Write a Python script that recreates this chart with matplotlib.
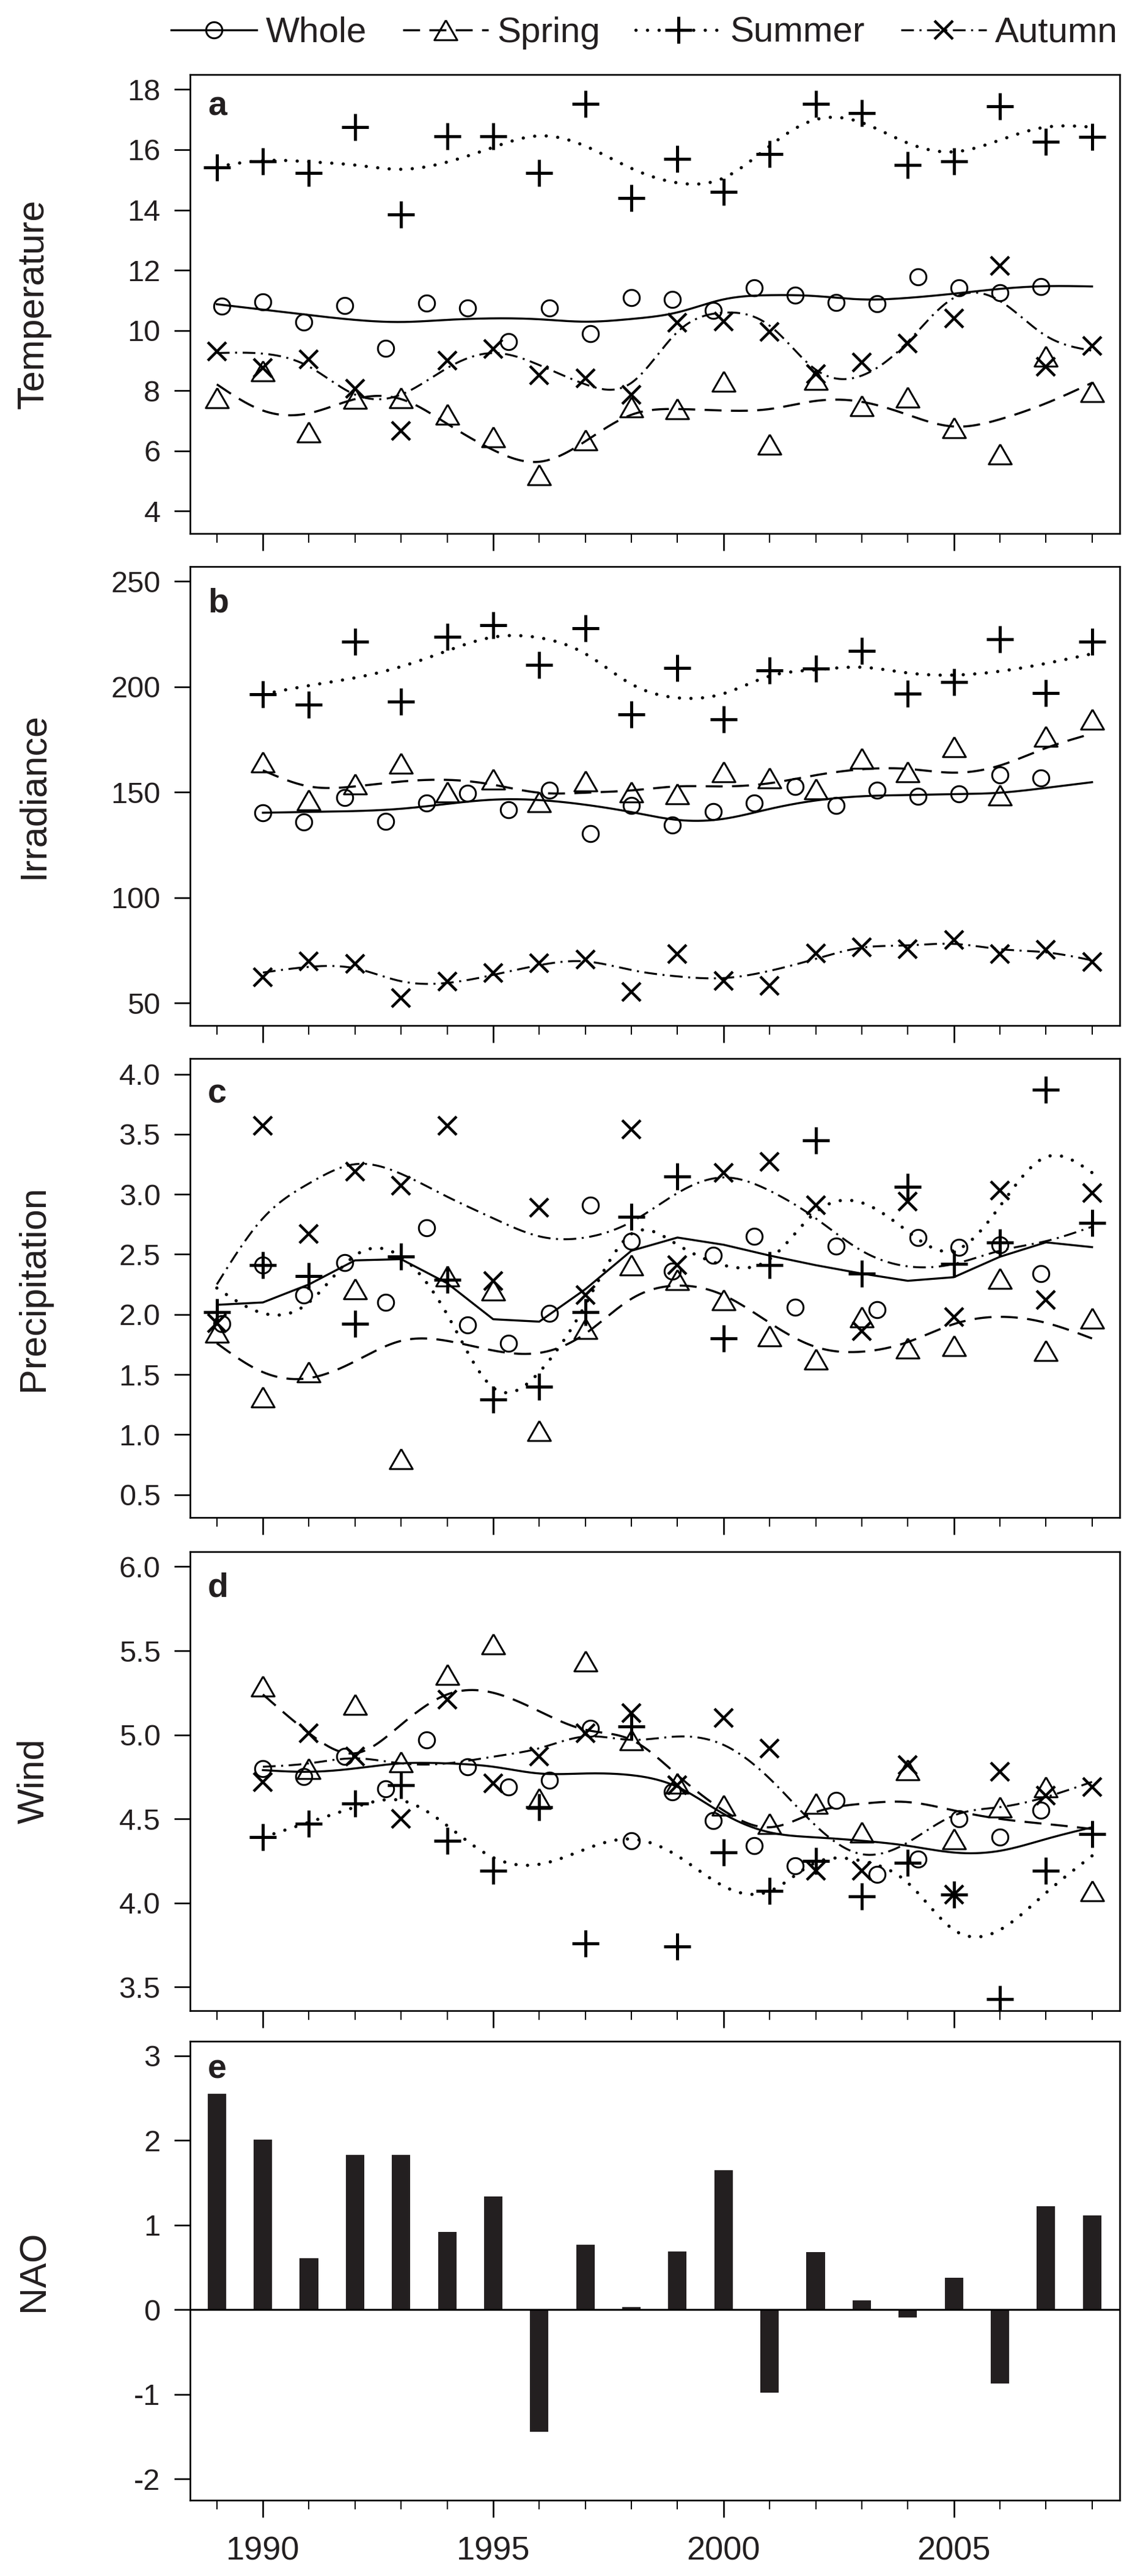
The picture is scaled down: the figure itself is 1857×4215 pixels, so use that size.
import numpy as np
import matplotlib
matplotlib.use('Agg')
import matplotlib.pyplot as plt
from matplotlib.lines import Line2D
from matplotlib.ticker import MultipleLocator, FormatStrFormatter

plt.rcParams['font.family'] = ['Liberation Sans', 'DejaVu Sans']
plt.rcParams['lines.scale_dashes'] = False

# ---------------- data ----------------
years = list(range(1989, 2009))
years_b = list(range(1990, 2009))
whole_x = [1989.11, 1990.0, 1990.89, 1991.78, 1992.67, 1993.56, 1994.44, 1995.33,
           1996.22, 1997.11, 1998.0, 1998.89, 1999.78, 2000.67, 2001.56, 2002.44,
           2003.33, 2004.22, 2005.11, 2006.0, 2006.89]

# (a) Temperature, 1989-2008
temp_whole = [10.8, 10.95, 10.27, 10.82, 9.4, 10.9, 10.75, 9.63, 10.75, 9.9, 11.09,
              11.03, 10.66, 11.42, 11.17, 10.93, 10.89, 11.78, 11.42, 11.25, 11.45]
temp_spring = [7.76, 8.65, 6.62, 7.74, 7.77, 7.21, 6.47, 5.2, 6.37, 7.46, 7.39, 8.31,
               6.22, 8.36, 7.49, 7.78, 6.76, 5.89, 9.14, 7.97]
temp_summer = [15.42, 15.62, 15.23, 16.74, 13.84, 16.44, 16.44, 15.23, 17.52, 14.4,
               15.69, 14.59, 15.86, 17.52, 17.22, 15.5, 15.62, 17.44, 16.27, 16.43]
temp_autumn = [9.3, 8.75, 9.04, 8.07, 6.66, 8.99, 9.38, 8.51, 8.41, 7.87, 10.25, 10.3,
               9.96, 8.55, 8.94, 9.57, 10.4, 12.15, 8.8, 9.48]
temp_whole_s = [10.87, 10.69, 10.51, 10.35, 10.28, 10.35, 10.4, 10.37, 10.29, 10.38,
                10.6, 11.03, 11.17, 11.14, 11.03, 11.08, 11.22, 11.38, 11.47, 11.46]
temp_spring_s = [8.21, 7.34, 7.25, 7.72, 7.72, 6.9, 6.03, 5.64, 6.32, 7.2, 7.39, 7.34,
                 7.39, 7.66, 7.63, 7.2, 6.81, 7.05, 7.58, 8.26]
temp_summer_s = [15.43, 15.64, 15.6, 15.49, 15.35, 15.59, 16.08, 16.46, 16.12, 15.38,
                 14.9, 15.06, 16.12, 17.0, 16.9, 16.22, 15.93, 16.32, 16.75, 16.75]
temp_autumn_s = [9.25, 9.23, 8.8, 7.87, 7.87, 8.75, 9.25, 8.85, 8.21, 8.26, 9.95, 10.59,
                 10.16, 8.7, 8.5, 9.62, 11.08, 10.98, 9.82, 9.33]

# (b) Irradiance, 1990-2008
irr_whole = [140.2, 135.8, 147.4, 136.1, 144.7, 149.4, 141.7, 150.9, 130.3, 143.6,
             134.5, 140.6, 144.7, 152.7, 143.6, 150.8, 147.9, 149.2, 158.0, 156.8]
irr_spring = [164.1, 146.2, 153.8, 163.6, 150.0, 156.1, 145.5, 155.3, 150.0, 149.2,
              159.5, 156.8, 151.5, 165.9, 159.5, 171.4, 148.5, 176.5, 184.5]
irr_summer = [196.4, 191.4, 221.2, 192.9, 223.5, 229.2, 210.2, 227.7, 186.8, 208.8,
              184.5, 207.7, 208.5, 217.1, 196.7, 202.3, 222.4, 197.1, 221.4]
irr_autumn = [62.1, 69.7, 68.6, 52.4, 60.3, 64.1, 69.0, 70.5, 55.2, 73.2, 60.6, 58.0,
              73.5, 76.5, 75.5, 80.0, 73.2, 75.2, 69.4]
irr_whole_s = [140.2, 140.6, 141.0, 142.1, 144.4, 146.4, 146.2, 144.0, 140.5, 136.8,
               137.3, 142.0, 146.0, 148.0, 148.6, 149.0, 149.7, 152.0, 154.7]
irr_spring_s = [160.3, 152.7, 152.7, 155.0, 155.8, 153.5, 149.7, 149.7, 150.8, 152.7,
                152.7, 154.2, 158.0, 160.8, 161.0, 159.2, 162.6, 170.9, 177.7]
irr_summer_s = [196.4, 200.5, 204.2, 209.5, 217.0, 223.5, 223.2, 215.6, 201.2, 194.7,
                196.7, 205.0, 208.0, 209.2, 206.5, 205.5, 207.3, 211.0, 215.6]
irr_autumn_s = [64.4, 67.1, 66.4, 60.3, 59.5, 63.3, 67.9, 69.7, 65.6, 62.6, 61.8, 65.2,
                70.9, 76.2, 77.3, 78.0, 75.5, 74.0, 70.2]

# (c) Precipitation, 1989-2008
pre_whole = [1.92, 2.41, 2.16, 2.43, 2.10, 2.72, 1.91, 1.76, 2.01, 2.91, 2.61, 2.36,
             2.49, 2.65, 2.06, 2.57, 2.04, 2.64, 2.56, 2.58, 2.34]
pre_spring = [1.85, 1.31, 1.52, 2.21, 0.80, 2.32, 2.20, 1.03, 1.88, 2.41, 2.29, 2.12,
              1.82, 1.63, 1.98, 1.72, 1.74, 2.30, 1.70, 1.97]
pre_summer = [2.02, 2.41, 2.32, 1.92, 2.48, 2.29, 1.29, 1.40, 2.02, 2.81, 3.15, 1.80,
              2.41, 3.45, 2.34, 3.06, 2.42, 2.60, 3.87, 2.76]
pre_autumn = [1.93, 3.57, 2.67, 3.19, 3.07, 3.57, 2.28, 2.89, 2.16, 3.54, 2.41, 3.18,
              3.27, 2.91, 1.86, 2.94, 1.98, 3.03, 2.12, 3.01]
pre_whole_s = [2.08, 2.10, 2.25, 2.45, 2.46, 2.26, 1.96, 1.94, 2.21, 2.53, 2.64, 2.58,
               2.49, 2.41, 2.34, 2.28, 2.31, 2.48, 2.60, 2.56]
pre_spring_s = [1.76, 1.52, 1.47, 1.61, 1.78, 1.78, 1.70, 1.68, 1.84, 2.13, 2.24, 2.16,
                1.93, 1.73, 1.69, 1.77, 1.92, 1.98, 1.93, 1.80]
pre_summer_s = [2.22, 2.01, 2.10, 2.49, 2.48, 2.00, 1.39, 1.52, 2.08, 2.67, 2.58, 2.41,
                2.46, 2.85, 2.93, 2.69, 2.53, 2.90, 3.31, 3.18]
pre_autumn_s = [2.25, 2.80, 3.09, 3.25, 3.17, 2.98, 2.80, 2.65, 2.64, 2.77, 3.01, 3.14,
                3.03, 2.80, 2.53, 2.40, 2.42, 2.53, 2.61, 2.73]

# (d) Wind, 1990-2008
wind_whole = [4.80, 4.75, 4.87, 4.68, 4.97, 4.81, 4.69, 4.73, 5.04, 4.37, 4.66, 4.49,
              4.34, 4.22, 4.61, 4.17, 4.26, 4.50, 4.39, 4.55]
wind_spring = [5.29, 4.80, 5.18, 4.84, 5.36, 5.54, 4.62, 5.44, 4.97, 4.71, 4.58, 4.47,
               4.59, 4.42, 4.79, 4.38, 4.57, 4.69, 4.07]
wind_summer = [4.39, 4.47, 4.59, 4.70, 4.37, 4.19, 4.57, 3.76, 5.05, 3.74, 4.30, 4.07,
               4.25, 4.04, 4.24, 4.05, 3.43, 4.19, 4.41]
wind_autumn = [4.72, 5.01, 4.87, 4.50, 5.21, 4.71, 4.87, 5.01, 5.13, 4.70, 5.10, 4.92,
               4.19, 4.19, 4.82, 4.05, 4.78, 4.64, 4.69]
wind_whole_s = [4.79, 4.78, 4.80, 4.83, 4.83, 4.81, 4.77, 4.77, 4.76, 4.69, 4.53, 4.42,
                4.39, 4.37, 4.34, 4.30, 4.31, 4.38, 4.45]
wind_spring_s = [5.24, 5.01, 4.89, 5.06, 5.24, 5.25, 5.14, 5.03, 4.97, 4.76, 4.55, 4.45,
                 4.54, 4.59, 4.60, 4.55, 4.50, 4.47, 4.44]
wind_summer_s = [4.39, 4.48, 4.57, 4.61, 4.46, 4.27, 4.23, 4.32, 4.38, 4.28, 4.10, 4.07,
                 4.24, 4.25, 4.12, 3.84, 3.84, 4.06, 4.28]
wind_autumn_s = [4.81, 4.83, 4.86, 4.83, 4.83, 4.87, 4.92, 4.99, 4.97, 4.99, 4.94, 4.74,
                 4.46, 4.29, 4.36, 4.52, 4.57, 4.63, 4.72]

# (e) NAO index, 1989-2008
nao = [2.55, 2.01, 0.61, 1.83, 1.83, 0.92, 1.34, -1.44, 0.77, 0.03, 0.69, 1.65, -0.98,
       0.68, 0.11, -0.09, 0.38, -0.87, 1.22, 1.11]

series_names = ['Whole', 'Spring', 'Summer', 'Autumn']
ylabels = ['Temperature', 'Irradiance', 'Precipitation', 'Wind', 'NAO']
letters = ['a', 'b', 'c', 'd', 'e']

# ---------------- styles ----------------
TRI = [(0, 0.87), (-1, -0.87), (1, -0.87), (0, 0.87)]
STY = {
    'Whole':  dict(line=dict(ls='-', lw=2.4),
                   mk=dict(marker='o', ms=19, mew=2.2, mfc='none')),
    'Spring': dict(line=dict(ls=(0, (20, 11)), lw=2.5),
                   mk=dict(marker=TRI, ms=27, mew=2.2, mfc='none')),
    'Summer': dict(line=dict(ls=(0, (0.1, 13.5)), lw=3.8, dash_capstyle='round'),
                   mk=dict(marker='+', ms=32, mew=3.6)),
    'Autumn': dict(line=dict(ls=(0, (15, 6.5, 2.4, 6.5)), lw=2.3),
                   mk=dict(marker='x', ms=22, mew=3.2)),
}
INK = '#231f20'


def spline(x, y, xs):
    x = np.asarray(x, float); y = np.asarray(y, float)
    n = len(x); h = np.diff(x)
    A = np.zeros((n, n)); r = np.zeros(n)
    A[0, 0] = A[-1, -1] = 1.0
    for i in range(1, n - 1):
        A[i, i - 1] = h[i - 1]; A[i, i] = 2 * (h[i - 1] + h[i]); A[i, i + 1] = h[i]
        r[i] = 3 * ((y[i + 1] - y[i]) / h[i] - (y[i] - y[i - 1]) / h[i - 1])
    c = np.linalg.solve(A, r)
    b = (y[1:] - y[:-1]) / h - h * (2 * c[:-1] + c[1:]) / 3
    d = (c[1:] - c[:-1]) / (3 * h)
    idx = np.clip(np.searchsorted(x, xs) - 1, 0, n - 2)
    dx = xs - x[idx]
    return y[idx] + b[idx] * dx + c[idx] * dx ** 2 + d[idx] * dx ** 3


def draw_curve(ax, x, y, name, smooth=True):
    if smooth:
        xs = np.linspace(x[0], x[-1], 500)
        ys = spline(x, y, xs)
    else:
        xs, ys = x, y
    ax.plot(xs, ys, color='k', zorder=2, **STY[name]['line'])


def draw_points(ax, x, y, name):
    ax.plot(x, y, ls='none', color='k', mec='k', zorder=3, **STY[name]['mk'])


# ---------------- figure ----------------
fig = plt.figure(figsize=(18.57, 42.15), dpi=100)
L, W, H = 0.1675, 0.819, 0.1782
bottoms = [0.7928, 0.6019, 0.4109, 0.2195, 0.0294]
axes = [fig.add_axes([L, b, W, H]) for b in bottoms]

panels = [
    (years, whole_x, temp_whole, [temp_spring, temp_summer, temp_autumn],
     [temp_whole_s, temp_spring_s, temp_summer_s, temp_autumn_s]),
    (years_b, whole_x[1:], irr_whole, [irr_spring, irr_summer, irr_autumn],
     [irr_whole_s, irr_spring_s, irr_summer_s, irr_autumn_s]),
    (years, whole_x, pre_whole, [pre_spring, pre_summer, pre_autumn],
     [pre_whole_s, pre_spring_s, pre_summer_s, pre_autumn_s]),
    (years_b, whole_x[1:], wind_whole, [wind_spring, wind_summer, wind_autumn],
     [wind_whole_s, wind_spring_s, wind_summer_s, wind_autumn_s]),
]

for k, (yrs, wx, wy, seas, smooths) in enumerate(panels):
    ax = axes[k]
    for j, name in enumerate(series_names):
        draw_curve(ax, yrs, smooths[j], name, smooth=not (k == 2 and name == 'Whole'))
    draw_points(ax, wx, wy, 'Whole')
    for j, name in enumerate(series_names[1:]):
        draw_points(ax, yrs, seas[j], name)

axe = axes[4]
axe.bar(years, nao, width=0.4, color=INK, zorder=2)
axe.axhline(0, color='k', lw=2.2, zorder=3)

ylims = [(3.25, 18.49), (39.3, 257.0), (0.31, 4.13), (3.36, 6.09), (-2.25, 3.17)]
ysteps = [2, 50, 0.5, 0.5, 1]
yfmts = ['%d', '%d', '%.1f', '%.1f', '%d']
letter_y = [0.912, 0.90, 0.903, 0.902, 0.92]

for k, ax in enumerate(axes):
    ax.set_xlim(1988.42, 2008.6)
    ax.set_ylim(*ylims[k])
    ax.yaxis.set_major_locator(MultipleLocator(ysteps[k]))
    ax.yaxis.set_major_formatter(FormatStrFormatter(yfmts[k]))
    ax.set_xticks([1990, 1995, 2000, 2005])
    ax.set_xticks(years, minor=True)
    for s in ax.spines.values():
        s.set_linewidth(1.9)
        s.set_color('k')
    ax.tick_params(axis='y', direction='out', length=19, width=1.9, pad=16,
                   labelsize=35, labelcolor=INK, right=False)
    ax.tick_params(axis='x', which='major', direction='out', length=20, width=1.9,
                   pad=22, labelsize=39, labelcolor=INK, top=False)
    ax.tick_params(axis='x', which='minor', direction='out', length=11, width=1.5,
                   top=False)
    if k < 4:
        ax.tick_params(axis='x', labelbottom=False)
    ax.set_ylabel(ylabels[k], fontsize=44, color=INK, va='center')
    ax.yaxis.set_label_coords(-0.168, 0.5)
    ax.text(0.019, letter_y[k], letters[k], transform=ax.transAxes, fontsize=40,
            fontweight='bold', color=INK, va='baseline', ha='left')

handles = []
for name in series_names:
    handles.append(Line2D([], [], color='k', mec='k', **STY[name]['line'],
                          **STY[name]['mk']))
fig.legend(handles, series_names, loc='center right', bbox_to_anchor=(0.985, 0.9872),
           ncol=4, frameon=False, fontsize=42, handlelength=2.4, handletextpad=0.25,
           columnspacing=1.0, borderaxespad=0, borderpad=0, labelcolor=INK)

fig.savefig('out.png', dpi=100)
